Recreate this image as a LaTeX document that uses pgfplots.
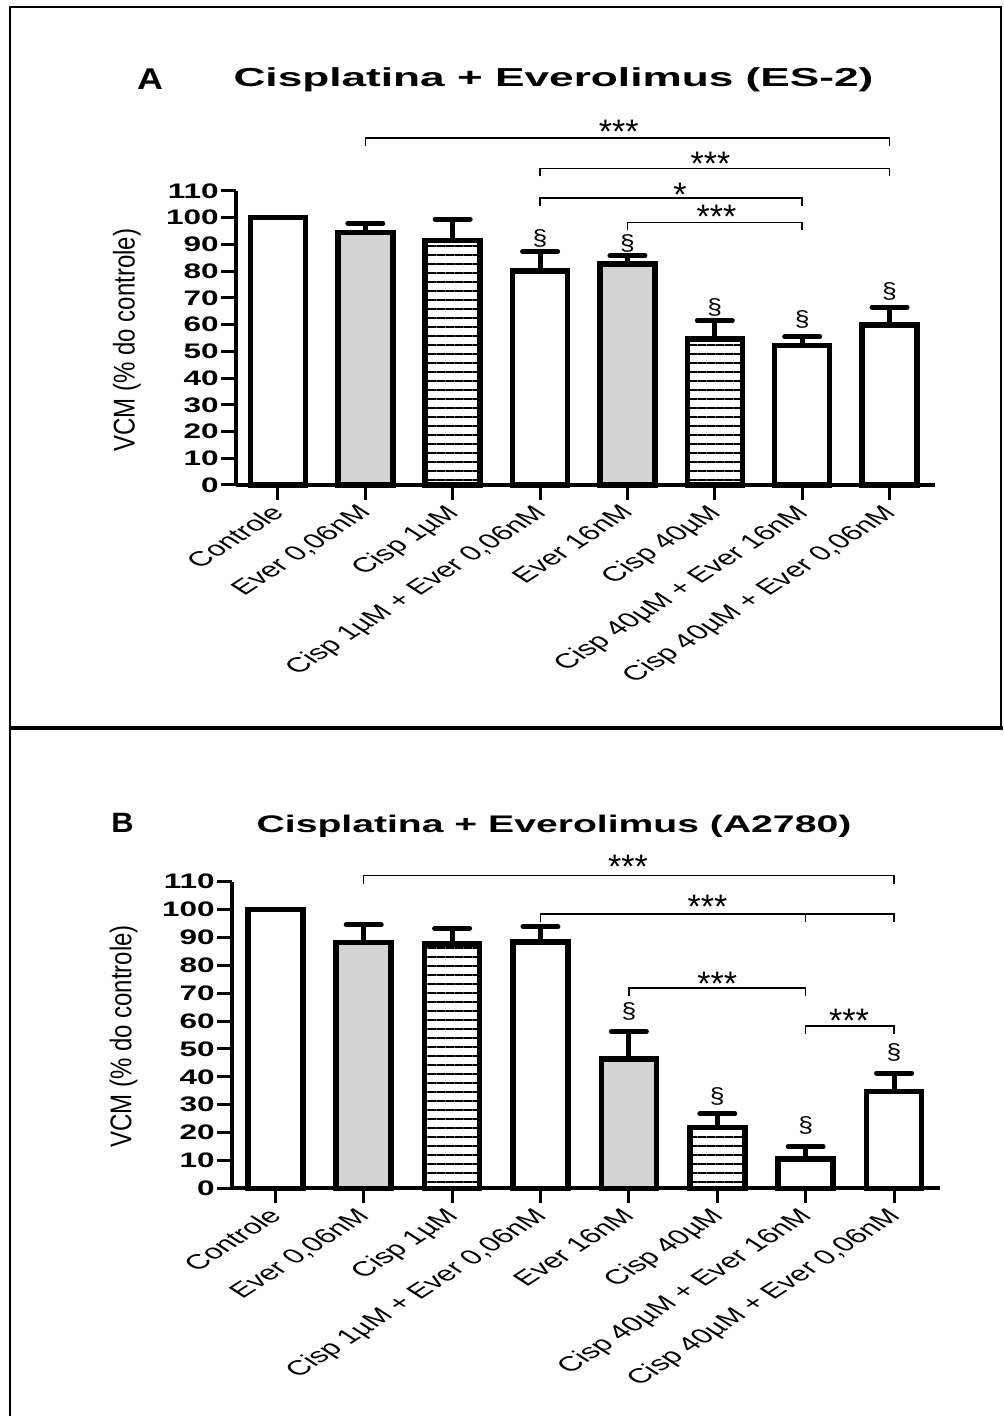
\documentclass[border=0pt]{standalone}
\usepackage{pgfplots}
\pgfplotsset{compat=1.18}
\usetikzlibrary{patterns.meta}
\usepackage{fontspec}
\setmainfont{Liberation Sans}
\definecolor{bargray}{RGB}{211,211,211}
\newcommand{\yl}[1]{\scalebox{1.5}[1]{#1}}
\pgfplotsset{
  panel/.style={
    scale only axis,
    axis lines=left,
    axis line style={-, line width=2pt},
    ymin=0, ymax=110,
    xtick={0,...,7},
    ytick={0,10,...,110},
    tick align=outside,
    major tick length=7.5pt,
    tick style={line width=1.5pt, black},
    yticklabels={\yl{0},\yl{10},\yl{20},\yl{30},\yl{40},\yl{50},\yl{60},\yl{70},\yl{80},\yl{90},\yl{100},\yl{110}},
    yticklabel style={font=\fontsize{10.5}{12}\selectfont\bfseries, anchor=east, inner sep=0pt, xshift=-1pt},
    xticklabels={{Controle},{Ever 0,06nM},{Cisp 1µM},{Cisp 1µM + Ever 0,06nM},{Ever 16nM},{Cisp 40µM},{Cisp 40µM + Ever 16nM},{Cisp 40µM + Ever 0,06nM}},
    xticklabel style={font=\fontsize{10.3}{12}\selectfont, xshift=-4.5pt, yshift=-1.5pt, xscale=1.55, rotate=45, anchor=north east, inner sep=0pt},
    clip=false,
    ylabel={\scalebox{0.8}[1]{VCM (\% do controle)}},
    ylabel style={font=\fontsize{15}{17}\selectfont, anchor=center},
  },
  plainbar/.style={ybar, bar width=27.5pt, bar shift=0pt, draw=black, line width=2.75pt},
  mybar/.style={plainbar, error bars/y dir=plus, error bars/y explicit,
    error bars/error mark=|,
    error bars/error bar style={line width=2.5pt, black},
    error bars/error mark options={line width=2.5pt, mark size=8.75pt, black, line cap=round}},
  linesfill/.style={pattern={Lines[angle=0,distance=4.5pt,line width=0.6pt]}},
}
\tikzset{
  star/.style={font=\fontsize{17}{17}\selectfont, yshift=-3.6pt, inner sep=0pt},
  sect/.style={font=\fontsize{11}{12}\selectfont, inner sep=0pt},
  brk/.style={line width=0.75pt, black},
}
\newcommand{\sx}{\scalebox{1.2}[1]{§}}
\begin{document}
\begin{tikzpicture}
\useasboundingbox (0,0) rectangle (501.5pt,708pt);
% frame
\draw[line width=1pt] (5pt,0) -- (5pt,704.5pt) -- (500.5pt,704.5pt) -- (500.5pt,344pt);
\draw[line width=2pt] (5pt,344pt) -- (501.5pt,344pt);
% titles
\node[font=\fontsize{15}{17}\selectfont\bfseries] at (75pt,668.5pt) {\scalebox{1.2}[1]{A}};
\node[font=\fontsize{13}{15}\selectfont\bfseries] at (276.75pt,668pt) {\scalebox{1.7}[1]{Cisplatina + Everolimus (ES-2)}};
\node[font=\fontsize{14}{16}\selectfont\bfseries] at (61.25pt,296.5pt) {\scalebox{1.1}[1]{B}};
\node[font=\fontsize{12}{14}\selectfont\bfseries] at (277pt,295pt) {\scalebox{1.63}[1]{Cisplatina + Everolimus (A2780)}};

% ---------------- Panel A ----------------
\begin{axis}[panel, width=349.5pt, height=147pt, at={(118pt,465.5pt)}, anchor=south west,
  xmin=-0.48, xmax=7.52,
  ylabel style={at={(axis description cs:-0.156,0.493)}}]
\addplot[plainbar, fill=white] coordinates {(0,100)};
\addplot[mybar, fill=white] table[x=x, y=y, y error=e] {
x y e
3 80.0 7.3
6 52.1 3.4
7 59.9 6.6
};
\addplot[mybar, fill=bargray] table[x=x, y=y, y error=e] {
x y e
1 94.5 3.4
4 82.7 3.1
};
\addplot[mybar, linesfill] table[x=x, y=y, y error=e] {
x y e
2 91.4 8.1
5 54.6 6.9
};
% significance brackets
\draw[brk] (axis cs:1,126.9) -- (axis cs:1,129.9) -- (axis cs:7,129.9) -- (axis cs:7,126.9);
\draw[brk] (axis cs:3,115.5) -- (axis cs:3,118.5) -- (axis cs:7,118.5) -- (axis cs:7,115.5);
\draw[brk] (axis cs:3,104.3) -- (axis cs:3,107.3) -- (axis cs:6,107.3) -- (axis cs:6,104.3);
\draw[brk] (axis cs:4,95.3) -- (axis cs:4,98.3) -- (axis cs:6,98.3) -- (axis cs:6,95.3);
\node[star] at (axis cs:3.9,135) {***};
\node[star] at (axis cs:4.95,122.7) {***};
\node[star] at (axis cs:4.6,111.1) {*};
\node[star] at (axis cs:5.02,102.9) {***};
\node[sect] at (axis cs:3,92.4) {\sx};
\node[sect] at (axis cs:4,90.4) {\sx};
\node[sect] at (axis cs:5,66.6) {\sx};
\node[sect] at (axis cs:6,62.1) {\sx};
\node[sect] at (axis cs:7,72.3) {\sx};
\end{axis}

% ---------------- Panel B ----------------
\begin{axis}[panel, width=354pt, height=153.3pt, at={(116pt,113.85pt)}, anchor=south west,
  xmin=-0.49, xmax=7.52,
  ylabel style={at={(axis description cs:-0.153,0.495)}}]
\addplot[plainbar, fill=white] coordinates {(0,100)};
\addplot[mybar, fill=white] table[x=x, y=y, y error=e] {
x y e
3 88.3 5.6
6 10.5 4.4
7 34.7 6.6
};
\addplot[mybar, fill=bargray] table[x=x, y=y, y error=e] {
x y e
1 88.1 6.4
4 46.4 9.8
};
\addplot[mybar, linesfill] table[x=x, y=y, y error=e] {
x y e
2 87.7 5.6
5 21.9 4.8
};
\draw[brk] (axis cs:1,109.3) -- (axis cs:1,112.2) -- (axis cs:7,112.2) -- (axis cs:7,109.3);
\draw[brk] (axis cs:3,95.5) -- (axis cs:3,98.4) -- (axis cs:7,98.4) -- (axis cs:7,95.5);
\draw[brk] (axis cs:6,98.4) -- (axis cs:6,95.5);
\draw[brk] (axis cs:4,68.9) -- (axis cs:4,71.8) -- (axis cs:6,71.8) -- (axis cs:6,68.9);
\draw[brk] (axis cs:6,55.4) -- (axis cs:6,58.3) -- (axis cs:7,58.3) -- (axis cs:7,55.4);
\node[star] at (axis cs:3.99,117.8) {***};
\node[star] at (axis cs:4.89,103.4) {***};
\node[star] at (axis cs:5.0,75.8) {***};
\node[star] at (axis cs:6.49,62.5) {***};
\node[sect] at (axis cs:4,63.3) {\sx};
\node[sect] at (axis cs:5,33.1) {\sx};
\node[sect] at (axis cs:6,22.7) {\sx};
\node[sect] at (axis cs:7,48.7) {\sx};
\end{axis}
\end{tikzpicture}
\end{document}
